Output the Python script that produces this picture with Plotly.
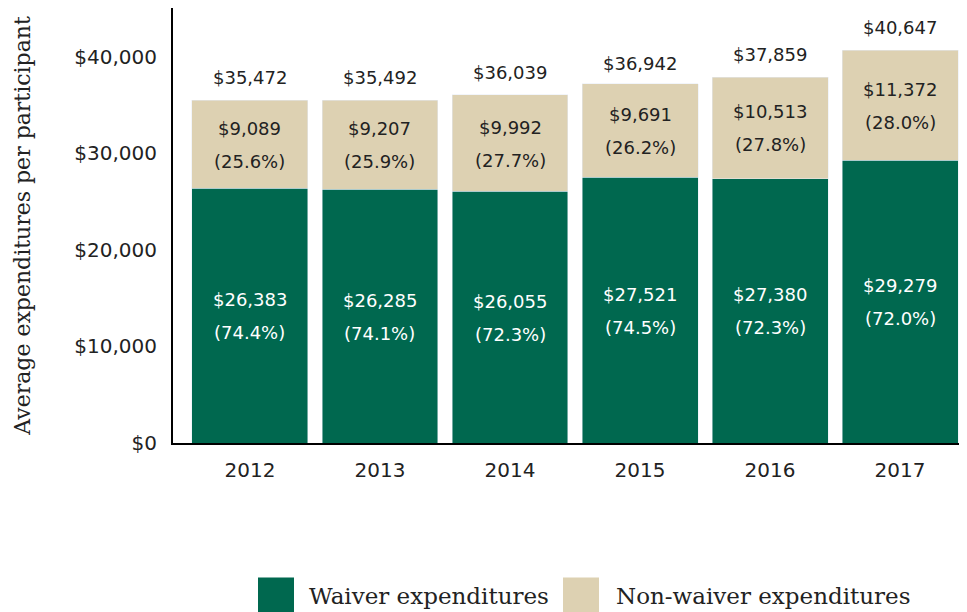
import plotly.graph_objects as go

years = ["2012", "2013", "2014", "2015", "2016", "2017"]
waiver = [26383, 26285, 26055, 27521, 27380, 29279]
waiver_pct = [74.4, 74.1, 72.3, 74.5, 72.3, 72.0]
nonwaiver = [9089, 9207, 9992, 9691, 10513, 11372]
nonwaiver_pct = [25.6, 25.9, 27.7, 26.2, 27.8, 28.0]
totals = [35472, 35492, 36039, 36942, 37859, 40647]
tick_vals = [0, 10000, 20000, 30000, 40000]
tick_text = ["$0", "$10,000", "$20,000", "$30,000", "$40,000"]
series_names = ["Waiver expenditures", "Non-waiver expenditures"]

GREEN = "#00684F"
BEIGE = "#DDD1B2"
DARK = "#222222"
NUM_FONT = "DejaVu Sans"
SERIF = "DejaVu Serif"

fig = go.Figure()
fig.add_trace(go.Bar(x=years, y=waiver, name=series_names[0], marker_color=GREEN,
                     showlegend=False, hoverinfo="skip"))
fig.add_trace(go.Bar(x=years, y=nonwaiver, name=series_names[1], marker_color=BEIGE,
                     showlegend=False, hoverinfo="skip"))

annotations = []
for i, (w, wp, n, npct, t) in enumerate(zip(waiver, waiver_pct, nonwaiver, nonwaiver_pct, totals)):
    for mid, amt, pct, col in [(w / 2, w, wp, "white"), (w + n / 2, n, npct, DARK)]:
        annotations.append(dict(x=i, y=mid, xref="x", yref="y", text=f"${amt:,}",
                                showarrow=False, yshift=16, yanchor="middle",
                                font=dict(family=NUM_FONT, size=18, color=col)))
        annotations.append(dict(x=i, y=mid, xref="x", yref="y", text=f"({pct:.1f}%)",
                                showarrow=False, yshift=-17, yanchor="middle",
                                font=dict(family=NUM_FONT, size=18, color=col)))
    annotations.append(dict(x=i, y=t, xref="x", yref="y", text=f"${t:,}",
                            showarrow=False, yshift=23, yanchor="middle",
                            font=dict(family=NUM_FONT, size=18, color=DARK)))

# legend (large swatches)
PL, PW, PB, PH = 165, 794, 435, 433
def px(fx):
    return (fx - PL) / PW
def py(fy):
    return (PB - fy) / PH

shapes = []
for sx, tx, col, name in [(250, 299, GREEN, series_names[0]), (555, 606, BEIGE, series_names[1])]:
    shapes.append(dict(type="rect", xref="paper", yref="paper", x0=px(sx), x1=px(sx + 36),
                       y0=py(606), y1=py(569), fillcolor=col, line_width=0, layer="above"))
    annotations.append(dict(x=px(tx), y=py(587), xref="paper", yref="paper", text=name,
                            showarrow=False, xanchor="left", yanchor="middle",
                            font=dict(family=SERIF, size=23, color=DARK)))

fig.update_layout(
    barmode="stack", bargap=0.108,
    width=967, height=612,
    margin=dict(l=165, r=8, t=0, b=177),
    plot_bgcolor="white", paper_bgcolor="white",
    showlegend=False,
    annotations=annotations, shapes=shapes,
    xaxis=dict(type="category", range=[-0.592, 5.515], showline=True, linecolor="black",
               linewidth=2, ticks="", tickfont=dict(family=NUM_FONT, size=20, color=DARK),
               ticklabelstandoff=8),
    yaxis=dict(range=[0, 45050], tickvals=tick_vals, ticktext=tick_text,
               showline=True, linecolor="black", linewidth=2, showgrid=False,
               zeroline=False, ticks="", ticklabelstandoff=10,
               tickfont=dict(family=NUM_FONT, size=20, color=DARK),
               title=dict(text="Average expenditures per participant",
                          font=dict(family=SERIF, size=22, color=DARK), standoff=38)),
)

fig.write_html("out.html")
